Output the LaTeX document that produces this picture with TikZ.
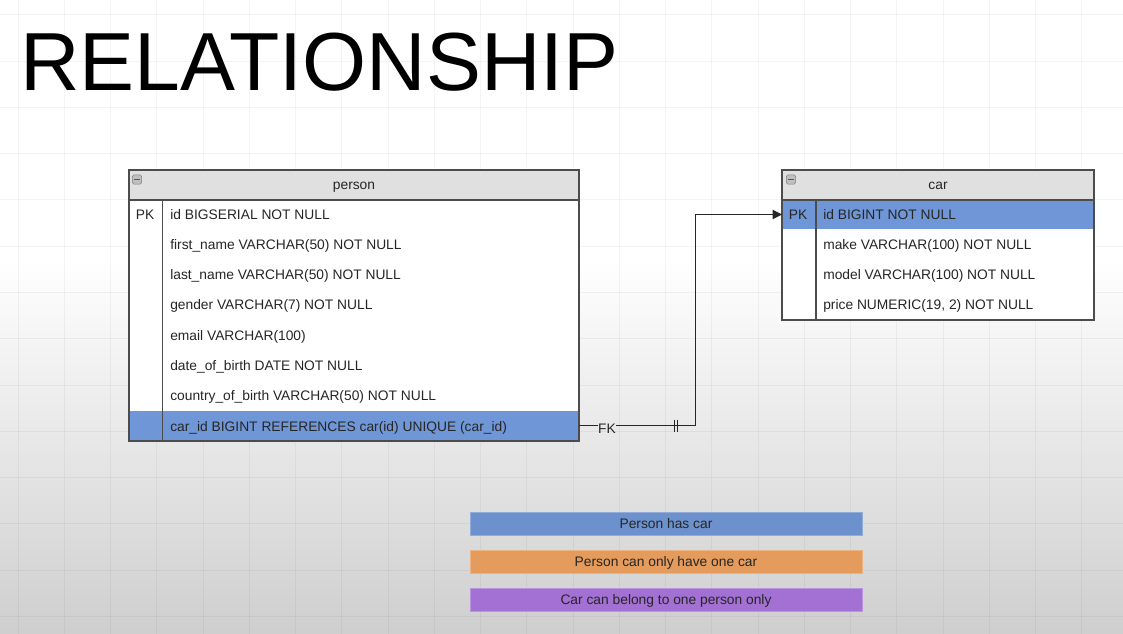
\documentclass[tikz,border=0pt]{standalone}
\usepackage{fontspec}
\setmainfont{Liberation Sans}
\usetikzlibrary{arrows.meta}
\definecolor{keyblue}{RGB}{111,150,214}
\definecolor{hdrgray}{RGB}{224,224,224}
\definecolor{noteblue}{RGB}{108,145,204}
\definecolor{noteorange}{RGB}{228,155,92}
\definecolor{notepurple}{RGB}{163,112,212}
\newcommand{\rowfont}{\fontsize{10.35}{12}\selectfont}
\tikzset{
    field/.style={anchor=base west,inner sep=0pt,font=\rowfont,text=black!85},
    keycell/.style={anchor=base,inner sep=0pt,font=\rowfont,text=black!85},
    tblline/.style={draw=black!70,line width=0.8pt},
    link/.style={draw=black!85,line width=0.75pt},
    gridline/.style={draw=black,opacity=0.045,line width=0.75pt},
    minusbox/.style={draw=black!50,fill=black!25,rounded corners=1.2pt,minimum size=7pt,inner sep=0pt},
    note/.style={draw=#1!75!white,fill=#1,minimum width=294pt,minimum height=17pt,inner sep=0pt,font=\rowfont,text=black!85}
}

\begin{document}
\begin{tikzpicture}[x=0.75pt,y=-0.75pt]
\useasboundingbox (0,0) rectangle (1123,634);
% background
\fill[white] (0,0) rectangle (1123,634);
\shade[top color=white,bottom color=black!19] (0,260) rectangle (1123,634);
\foreach \gx in {18,64.25,...,1123} \draw[gridline] (\gx,0) -- (\gx,634);
\foreach \gy in {15,61.25,...,634} \draw[gridline] (0,\gy) -- (1123,\gy);

\node[anchor=base west,inner sep=0pt,font=\fontsize{61.8}{70}\selectfont] (title) at (20,91) {RELATIONSHIP};

% person
\fill[white] (129,170) rectangle (579,441);
\fill[hdrgray] (129,170) rectangle (579,200);
\fill[keyblue] (129,410.5) rectangle (579,441);
\draw[tblline] (129,170) rectangle (579,441);
\draw[tblline] (129,200) -- (579,200);
\draw[tblline] (162.5,200) -- (162.5,441);
\node[minusbox] (pminus) at (137,179.5) {};
\draw[black!65,line width=0.6pt] ([xshift=1.5pt]pminus.west) -- ([xshift=-1.5pt]pminus.east);
\node[keycell] (person) at (354,190) {person};
\node[keycell] (ppk) at (145,220) {PK};
\node[field] (pid) at (170,220) {id BIGSERIAL NOT NULL};
\node[field] (pfirst) at (170,250) {first\_name VARCHAR(50) NOT NULL};
\node[field] (plast) at (170,280) {last\_name VARCHAR(50) NOT NULL};
\node[field] (pgender) at (170,310) {gender VARCHAR(7) NOT NULL};
\node[field] (pemail) at (170,340) {email VARCHAR(100)};
\node[field] (pdob) at (170,370) {date\_of\_birth DATE NOT NULL};
\node[field] (pcob) at (170,400) {country\_of\_birth VARCHAR(50) NOT NULL};
\node[field] (pcar) at (170,431) {car\_id BIGINT REFERENCES car(id) UNIQUE (car\_id)};

% car
\fill[white] (782,170) rectangle (1094,320);
\fill[hdrgray] (782,170) rectangle (1094,200);
\fill[keyblue] (782,200) rectangle (1094,229.5);
\draw[tblline] (782,170) rectangle (1094,320);
\draw[tblline] (782,200) -- (1094,200);
\draw[tblline] (816,200) -- (816,320);
\node[minusbox] (cminus) at (791,179.5) {};
\draw[black!65,line width=0.6pt] ([xshift=1.5pt]cminus.west) -- ([xshift=-1.5pt]cminus.east);
\node[keycell] (car) at (938,190) {car};
\node[keycell] (cpk) at (798,220) {PK};
\node[field] (cid) at (823,220) {id BIGINT NOT NULL};
\node[field] (cmake) at (823,250) {make VARCHAR(100) NOT NULL};
\node[field] (cmodel) at (823,280) {model VARCHAR(100) NOT NULL};
\node[field] (cprice) at (823,310) {price NUMERIC(19, 2) NOT NULL};

% link
\coordinate (fkout) at (579,425.5);
\coordinate (bend) at (695.5,425.5);
\coordinate (pkin) at (782,214.5);
\node[keycell,inner sep=0.2pt] (fk) at (607,433) {FK};
\draw[link] (fkout) -- (fk.west |- fkout);
\draw[link,-{Triangle[length=7pt,width=7pt]}] (fk.east |- fkout) -- (bend) |- (pkin);
\draw[link,line width=1.1pt] (674.5,419.5) -- (674.5,431.5);
\draw[link,line width=1.1pt] (677.5,419.5) -- (677.5,431.5);

% notes
\node[note=noteblue,text height=7.4pt,text depth=0pt] (hascar) at (666,523.5) {Person has car};
\node[note=noteorange,text height=7.4pt,text depth=0pt] (onecar) at (666,562) {Person can only have one car};
\node[note=notepurple,text height=7.4pt,text depth=0pt] (oneperson) at (666,600) {Car can belong to one person only};
\end{tikzpicture}
\end{document}
